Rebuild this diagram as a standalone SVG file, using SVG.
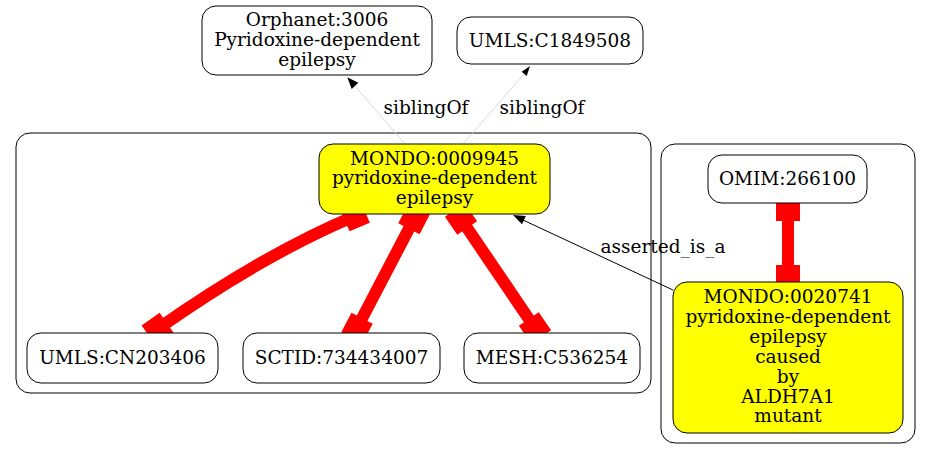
<svg xmlns="http://www.w3.org/2000/svg" width="931" height="460" viewBox="0 0 931 460">
<style>
text{font-family:"DejaVu Serif",serif;font-size:18.5px;text-anchor:middle;fill:#000}
.node{fill:#fff;stroke:#000;stroke-width:1}
.hl{fill:#ffff00}
.cluster{fill:none;stroke:#000;stroke-width:1}
.red{stroke:#ff0000;stroke-width:12;fill:none}
.tee{fill:#ff0000}
.sib{stroke:#d0d0d0;stroke-width:0.8;fill:none}
.thin{stroke:#000;stroke-width:1;fill:none}
</style>
<rect width="931" height="460" fill="#fff"/>
<g id="clusters">
<rect class="cluster" x="16" y="133" width="635" height="260" rx="14"/>
<rect class="cluster" x="661" y="144" width="254" height="299" rx="14"/>
</g>
<g id="connectors">
<line class="sib" x1="405" y1="144" x2="354" y2="85"/>
<polygon points="347.3,77.3 358.3,82.7 351.7,89"/>
<text x="426" y="114">siblingOf</text>
<line class="sib" x1="463" y1="144" x2="524" y2="74"/>
<polygon points="530,66 521.7,71.7 526.7,76"/>
<text x="542" y="114">siblingOf</text>
<line class="thin" x1="673" y1="290" x2="523" y2="220"/>
<polygon points="513,215 525.8,216 522,224.2"/>
<text x="663" y="253">asserted_is_a</text>
<path class="red" d="M355,216 Q263.6,254.4 157.5,329"/>
<rect class="tee" x="-11" y="-12" width="22" height="24" transform="translate(355,216) rotate(157.2)"/>
<rect class="tee" x="-11" y="-12" width="22" height="24" transform="translate(157.5,329) rotate(145)"/>
<line class="red" x1="414" y1="219" x2="357" y2="328"/>
<rect class="tee" x="-11" y="-12" width="22" height="24" transform="translate(414,219) rotate(117.6)"/>
<rect class="tee" x="-11" y="-12" width="22" height="24" transform="translate(357,328) rotate(117.6)"/>
<line class="red" x1="461" y1="219" x2="535" y2="328"/>
<rect class="tee" x="-11" y="-12" width="22" height="24" transform="translate(461,219) rotate(55.8)"/>
<rect class="tee" x="-11" y="-12" width="22" height="24" transform="translate(535,328) rotate(55.8)"/>
<line class="red" x1="788" y1="209" x2="788" y2="277"/>
<rect class="tee" x="776" y="197" width="24" height="24"/>
<rect class="tee" x="776" y="265" width="24" height="24"/>
</g>
<g id="orphanet">
<rect class="node" x="202" y="6" width="230" height="69" rx="14"/>
<text x="317" y="26">Orphanet:3006</text>
<text x="317" y="46">Pyridoxine-dependent</text>
<text x="317" y="66">epilepsy</text>
</g>
<g id="umls_c1849508">
<rect class="node" x="457" y="17" width="186" height="47" rx="14"/>
<text x="550" y="46.5">UMLS:C1849508</text>
</g>
<g id="mondo_0009945">
<rect class="node hl" x="319" y="144" width="231" height="70" rx="14"/>
<text x="434.5" y="164.5">MONDO:0009945</text>
<text x="434.5" y="184.4">pyridoxine-dependent</text>
<text x="434.5" y="204.3">epilepsy</text>
</g>
<g id="umls_cn203406">
<rect class="node" x="27" y="333" width="191" height="50" rx="14"/>
<text x="122.5" y="364">UMLS:CN203406</text>
</g>
<g id="sctid">
<rect class="node" x="243" y="333" width="197" height="50" rx="14"/>
<text x="341.5" y="364">SCTID:734434007</text>
</g>
<g id="mesh">
<rect class="node" x="464" y="333" width="176" height="50" rx="14"/>
<text x="552" y="364">MESH:C536254</text>
</g>
<g id="omim">
<rect class="node" x="708" y="155" width="159" height="48" rx="14"/>
<text x="787.5" y="184.5">OMIM:266100</text>
</g>
<g id="mondo_0020741">
<rect class="node hl" x="673" y="282" width="230" height="151" rx="14"/>
<text x="788" y="303">MONDO:0020741</text>
<text x="788" y="322.9">pyridoxine-dependent</text>
<text x="788" y="342.8">epilepsy</text>
<text x="788" y="362.7">caused</text>
<text x="788" y="382.6">by</text>
<text x="788" y="402.5">ALDH7A1</text>
<text x="788" y="422.4">mutant</text>
</g>
</svg>
